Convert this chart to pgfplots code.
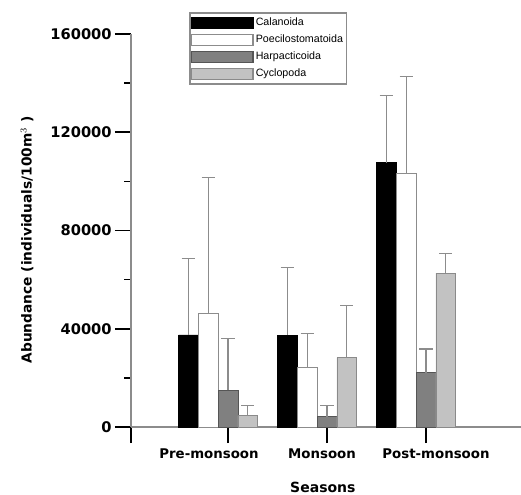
\documentclass[border=0pt]{standalone}
\usepackage{pgfplots}
\pgfplotsset{compat=1.18}
\usepackage{fontspec}
\setmainfont{DejaVu Sans}
\newfontfamily\legfont{Liberation Sans}
\definecolor{dg}{HTML}{808080}
\definecolor{dgo}{HTML}{555555}
\definecolor{lg}{HTML}{C2C2C2}
\definecolor{lgo}{HTML}{8A8A8A}
\definecolor{ax}{HTML}{8C8C8C}
\pgfplotsset{mylegend/.style={legend image code/.code={\draw[##1,line width=0.9pt] (0pt,-4.3pt) rectangle (46pt,4.3pt);}}}
\begin{document}
\begin{tikzpicture}
\useasboundingbox (-98.25pt,-50.25pt) rectangle (292.5pt,320.25pt);
\begin{axis}[
  at={(0pt,0pt)}, anchor=south west,
  scale only axis, width=292.5pt, height=294.75pt,
  xmin=0.02, xmax=3.96, ymin=0, ymax=160000,
  axis lines*=left,
  axis line style={draw=ax, line width=0.8pt},
  ybar, bar width=0.2, clip=false,
  scaled y ticks=false,
  xtick={0.02,1,2,3},
  xticklabels={,Pre-monsoon\hspace*{28.5pt},Monsoon\hspace*{7.5pt},\hspace*{15pt}Post-monsoon},
  ytick={0,40000,80000,120000,160000},
  yticklabels={0,40000,80000,120000,160000},
  minor ytick={20000,60000,100000,140000},
  tick align=outside,
  major tick length=12pt, minor tick length=5pt,
  tick style={black, line width=1.4pt},
  minor tick style={black, line width=1pt},
  xticklabel style={font=\bfseries\fontsize{10}{12}\selectfont, yshift=-1pt},
  yticklabel style={font=\bfseries\fontsize{11}{13}\selectfont, xshift=1pt},
  xlabel={Seasons},
  ylabel={Abundance (individuals/100m$^{3}$ )},
  xlabel style={font=\bfseries\fontsize{10.5}{12}\selectfont, at={(axis description cs:0.492,-0.153)}, anchor=center},
  ylabel style={font=\bfseries\fontsize{10.3}{12}\selectfont, at={(axis description cs:-0.2667,0.476)}, anchor=center, rotate=0},
  legend style={at={(axis description cs:0.1487,1.056)}, anchor=north west, draw=ax, line width=1.2pt,
    font=\legfont\fontsize{8}{9.6}\selectfont, inner xsep=1pt, inner ysep=2.5pt,
    nodes={inner sep=1.6pt}, row sep=2.2pt},
  legend cell align=left,
  error bars/y dir=plus, error bars/y explicit,
  error bars/error bar style={draw=ax, line width=0.9pt},
  error bars/error mark options={rotate=90, mark size=5pt, draw=ax, line width=0.9pt},
]
\addplot+[bar shift=0pt, fill=black, draw=black, mylegend] table[x=x, y=y, y error=e] {
x y e
0.6 37500 31200
1.6 37400 27500
2.6 107600 27300
};
\addlegendentry{Calanoida}
\addplot+[bar shift=0pt, fill=white, draw=ax, mylegend] table[x=x, y=y, y error=e] {
x y e
0.8 46500 55200
1.8 24300 13800
2.8 103300 39300
};
\addlegendentry{Poecilostomatoida}
\addplot+[bar shift=0pt, fill=dg, draw=dgo, mylegend] table[x=x, y=y, y error=e] {
x y e
1.0 14900 21200
2.0 4200 4600
3.0 22100 9650
};
\addlegendentry{Harpacticoida}
\addplot+[bar shift=0pt, fill=lg, draw=lgo, mylegend] table[x=x, y=y, y error=e] {
x y e
1.2 4600 4300
2.2 28200 21200
3.2 62600 8100
};
\addlegendentry{Cyclopoda}
\end{axis}
\end{tikzpicture}
\end{document}
